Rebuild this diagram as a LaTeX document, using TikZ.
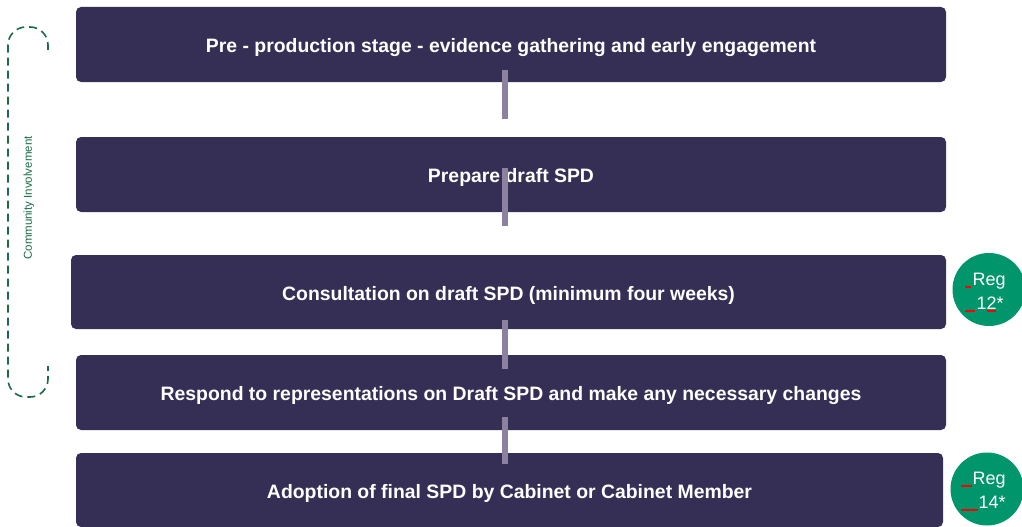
\documentclass[tikz,border=0pt]{standalone}
\usepackage{fontspec}
\setmainfont{Liberation Sans}
\usetikzlibrary{positioning,calc}
\definecolor{stagefill}{HTML}{352F55}
\definecolor{linkgray}{HTML}{8A829F}
\definecolor{reggreen}{HTML}{00956A}
\definecolor{cigreen}{HTML}{1B6B47}
\newcommand{\redbar}[1]{\textcolor{red}{\rule[-2.5pt]{#1}{1.8pt}}}
\tikzset{
  stage/.style={fill=stagefill,rounded corners=5pt,text=white,inner sep=0pt,
    minimum height=75pt,text height=20pt,text depth=4pt,
    font=\fontsize{19.4}{22}\selectfont\bfseries},
  link/.style={draw=linkgray,line width=6pt},
  reg/.style={circle,fill=reggreen,inner sep=0pt,minimum size=73pt},
  regtext/.style={anchor=north west,inner sep=0pt,text=white,align=left,
    font=\fontsize{18}{24}\selectfont},
  involve/.style={draw=cigreen,line width=1.6pt,dash pattern=on 8pt off 5pt,
    rounded corners=18pt}
}

\begin{document}
\begin{tikzpicture}[x=1pt,y=-1pt]
    \useasboundingbox (0,0) rectangle (1022,527);
    % stages
    \node (pre) [stage,minimum width=870pt] at (511,44.5)
      {Pre - production stage - evidence gathering and early engagement};
    \node (draft) [stage,minimum width=870pt] at (511,174.5) {Prepare draft SPD};
    \node (consult) [stage,minimum width=875pt,minimum height=74pt] at (508.5,292)
      {Consultation on draft SPD (minimum four weeks)};
    \node (respond) [stage,minimum width=870pt] at (511,392.5)
      {Respond to representations on Draft SPD and make any necessary changes};
    \node (adopt) [stage,minimum width=867pt,minimum height=74pt] at (509.5,490)
      {Adoption of final SPD by Cabinet or Cabinet Member};
    % links
    \coordinate (l1a) at (505,70);  \coordinate (l1b) at (505,119);
    \coordinate (l2a) at (505,168); \coordinate (l2b) at (505,226);
    \coordinate (l3a) at (505,320); \coordinate (l3b) at (505,369);
    \coordinate (l4a) at (505,417); \coordinate (l4b) at (505,464);
    \foreach \i in {1,...,4}
      \draw[link] (l\i a) -- (l\i b);
    % regulations
    \node (reg12) [reg] at (989,289.5) {};
    \node (reg12txt) [regtext] at ($(reg12.center)+(-24,-16.5)$)
      {\redbar{6pt}\hspace{1.5pt}Reg\\
       \redbar{10pt}\hspace{1.5pt}1\rlap{\redbar{9pt}}2*};
    \node (reg14) [reg] at (987,489) {};
    \node (reg14txt) [regtext] at ($(reg14.center)+(-26,-17)$)
      {\redbar{11pt}\hspace{0.5pt}Reg\\
       \redbar{17pt}\hspace{0.5pt}14*};
    % community involvement
    \draw[involve] (48,50) |- (8,27) |- (48,397) -- (48,366);
    \node (ci) [rotate=90,text=cigreen,font=\fontsize{11.5}{13}\selectfont]
      at (29,198) {Community Involvement};
\end{tikzpicture}
\end{document}
